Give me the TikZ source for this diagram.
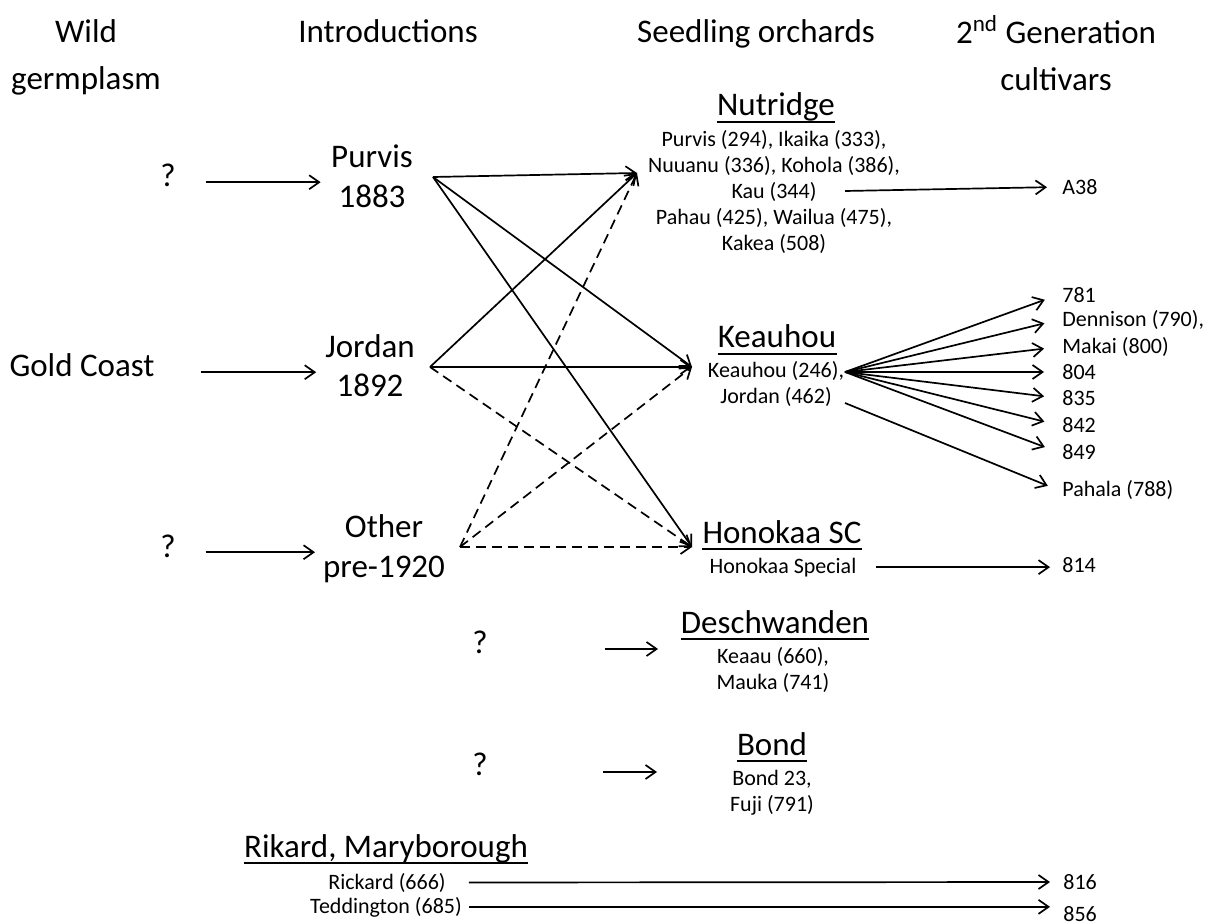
\documentclass[tikz,border=0pt]{standalone}
\usepackage{fontspec}
\setmainfont{Carlito}
\usetikzlibrary{arrows.meta, positioning}

\begin{document}
\begin{tikzpicture}[
    x=0.5pt, y=-0.5pt,
    head/.style={anchor=base, align=center, font=\fontsize{16.5}{23.5}\selectfont},
    intro/.style={anchor=base, align=center, font=\fontsize{16.5}{20}\selectfont},
    orch/.style={anchor=base, inner sep=0pt, font=\fontsize{16.5}{20}\selectfont},
    sub/.style={anchor=base, align=center, font=\fontsize{11}{13}\selectfont},
    cv/.style={anchor=west, inner sep=2pt, font=\fontsize{11}{13}\selectfont},
    arr/.style={-{Straight Barb[length=5pt, width=7pt]}, line width=0.85pt},
    arrd/.style={arr, dash pattern=on 5pt off 3pt},
]
    \useasboundingbox (0,0) rectangle (1213,924);

    % column heads (multi-line nodes sit on their last line)
    \node[head] (hwild) at (86,90) {Wild\\germplasm};
    \node[head] (hintro) at (388,43) {Introductions};
    \node[head] (hseed) at (756,43) {Seedling orchards};
    \node[head] (hgen) at (1056,91) {2\textsuperscript{nd} Generation\\cultivars};

    % wild germplasm and introductions
    \node[intro] (q1) at (168,187) {?};
    \node[intro] (gold) at (82,377) {Gold Coast};
    \node[intro] (q3) at (168,557) {?};
    \node[intro] (pur) at (372,208) {Purvis\\1883};
    \node[intro] (jor) at (370,397) {Jordan\\1892};
    \node[intro] (oth) at (384,577) {Other\\pre-1920};

    \draw[arr, shorten <=11.5pt, shorten >=1.75pt] (q1.mid east) -- (q1.mid east -| pur.west);
    \draw[arr, shorten <=19.5pt, shorten >=1pt] (gold.mid east) -- (gold.mid east -| jor.west);
    \draw[arr, shorten <=11.5pt, shorten >=0.5pt] (q3.mid east) -- (q3.mid east -| oth.west);

    % seedling orchards
    \node[orch] (nut) at (776,116) {Nutridge};
    \node[sub] (nutl) at (774,251) {Purvis (294), Ikaika (333),\\Nuuanu (336), Kohola (386),\\Kau (344)\\Pahau (425), Wailua (475),\\Kakea (508)};
    \node[orch] (kea) at (777,348) {Keauhou};
    \node[sub] (keal) at (776,403) {Keauhou (246),\\Jordan (462)};
    \node[orch] (hon) at (782,543) {Honokaa SC};
    \node[sub] (honl) at (783,573) {Honokaa Special};
    \node[intro] (q4) at (480,653) {?};
    \node[orch] (des) at (775,633) {Deschwanden};
    \node[sub] (desl) at (773,689) {Keaau (660),\\Mauka (741)};
    \node[intro] (q5) at (480,775) {?};
    \node[orch] (bond) at (772,755) {Bond};
    \node[sub] (bondl) at (772,811) {Bond 23,\\Fuji (791)};
    \node[orch] (rik) at (386,857) {Rikard, Maryborough};
    \node[sub] (rick) at (387,889) {Rickard (666)};
    \node[sub] (ted) at (386,913) {Teddington (685)};

    \foreach \n in {nut, kea, hon, des, bond, rik}
        \draw[line width=1.3pt] ([yshift=-3pt]\n.base west) -- ([yshift=-3pt]\n.base east);

    \coordinate (pur-out) at (433,177);
    \coordinate (jor-out) at (430,367);
    \coordinate (oth-out) at (460,547);
    \coordinate (nut-in) at (637,173);
    \coordinate (kea-in) at (692,367);
    \coordinate (hon-in) at (692,547);

    \draw[arr] (pur-out) -- (nut-in);
    \draw[arr] (pur-out) -- (kea-in);
    \draw[arr] (pur-out) -- (hon-in);
    \draw[arr] (jor-out) -- (nut-in);
    \draw[arr] (jor-out) -- (kea-in);
    \draw[arrd] (jor-out) -- (hon-in);
    \draw[arrd] (oth-out) -- (nut-in);
    \draw[arrd] (oth-out) -- (kea-in);
    \draw[arrd] (oth-out) -- (hon-in);

    \coordinate (des-in) at (658,649);
    \coordinate (bond-in) at (657,772);
    \draw[arr, shorten <=55pt] (q4.east |- des-in) -- (des-in);
    \draw[arr, shorten <=54pt] (q5.east |- bond-in) -- (bond-in);

    % 2nd generation cultivars
    \node[cv] (a38) at (1058,187) {A38};
    \node[cv] (c781) at (1058,295) {781};
    \node[cv] (cden) at (1058,320) {Dennison (790),};
    \node[cv] (cmak) at (1058,347) {Makai (800)};
    \node[cv] (c804) at (1058,372) {804};
    \node[cv] (c835) at (1058,398) {835};
    \node[cv] (c842) at (1058,425) {842};
    \node[cv] (c849) at (1058,452) {849};
    \node[cv] (cpah) at (1058,490) {Pahala (788)};
    \node[cv] (c814) at (1058,565) {814};
    \node[cv] (c816) at (1059,882) {816};
    \node[cv] (c856) at (1059,914) {856};

    \coordinate (nut-out) at (845,191);
    \coordinate (kea-out) at (845,372);
    \coordinate (kea-out2) at (845,403);

    \draw[arr, shorten >=5.5pt] (nut-out) -- (a38.west);
    \draw[arr, shorten >=7pt] (kea-out) -- (c781.west);
    \draw[arr, shorten >=7pt] (kea-out) -- (cden.west);
    \draw[arr, shorten >=7pt] (kea-out) -- (cmak.west);
    \draw[arr, shorten >=7pt] (kea-out) -- (c804.west);
    \draw[arr, shorten >=7pt] (kea-out) -- (c835.west);
    \draw[arr, shorten >=7pt] (kea-out) -- (c842.west);
    \draw[arr, shorten >=7pt] (kea-out) -- (c849.west);
    \draw[arr, shorten >=5.5pt] (kea-out2) -- (cpah.west);
    \draw[arr, shorten <=6.5pt, shorten >=4pt] (honl.east) -- (honl.east -| c814.west);
    \draw[arr, shorten >=4.5pt] (rick.east -| ted.east) -- (c816.west);
    \draw[arr, shorten >=4.5pt] (ted.east) -- (ted.east -| c856.west);
\end{tikzpicture}
\end{document}
